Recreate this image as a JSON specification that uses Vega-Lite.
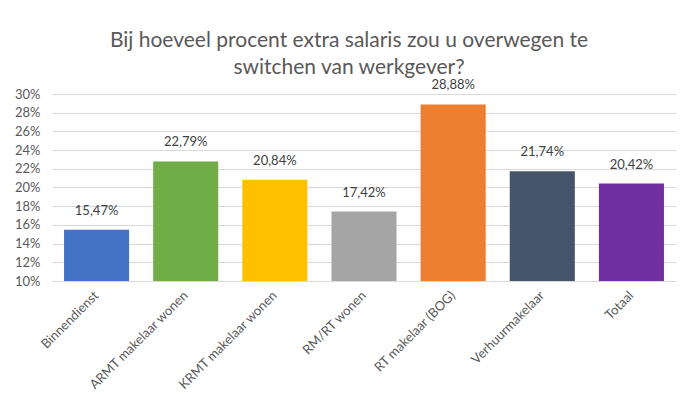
{
  "$schema": "https://vega.github.io/schema/vega-lite/v6.json",
  "width": 624,
  "height": 187,
  "autosize": {"type": "none"},
  "padding": {"left": 52, "top": 94, "right": 24, "bottom": 137},
  "background": "white",
  "title": {
    "text": ["Bij hoeveel procent extra salaris zou u overwegen te", "switchen van werkgever?"],
    "font": "Lato",
    "fontSize": 21,
    "fontWeight": "normal",
    "color": "#595959",
    "lineHeight": 27,
    "anchor": "middle",
    "frame": "group",
    "dx": -15,
    "offset": 1
  },
  "config": {
    "locale": {
      "number": {"decimal": ",", "thousands": ".", "grouping": [3], "currency": ["€", ""]}
    },
    "view": {"stroke": null},
    "font": "Lato"
  },
  "data": {
    "values": [
      {"categorie": "Binnendienst", "percentage": 0.1547},
      {"categorie": "ARMT makelaar wonen", "percentage": 0.2279},
      {"categorie": "KRMT makelaar wonen", "percentage": 0.2084},
      {"categorie": "RM/RT wonen", "percentage": 0.1742},
      {"categorie": "RT makelaar (BOG)", "percentage": 0.2888},
      {"categorie": "Verhuurmakelaar", "percentage": 0.2174},
      {"categorie": "Totaal", "percentage": 0.2042}
    ]
  },
  "encoding": {
    "x": {
      "field": "categorie",
      "type": "nominal",
      "sort": null,
      "title": null,
      "scale": {"paddingInner": 0.27, "paddingOuter": 0.135},
      "axis": {
        "labelAngle": -45,
        "labelAlign": "right",
        "labelBaseline": "middle",
        "labelFontSize": 13,
        "labelColor": "#595959",
        "labelPadding": 12,
        "labelOverlap": false,
        "ticks": false,
        "domainColor": "#D9D9D9",
        "domainWidth": 1
      }
    },
    "y": {
      "field": "percentage",
      "type": "quantitative",
      "scale": {"domain": [0.1, 0.3], "zero": false, "nice": false},
      "title": null,
      "axis": {
        "format": ".0%",
        "tickCount": 30,
        "values": [0.1, 0.12, 0.14, 0.16, 0.18, 0.2, 0.22, 0.24, 0.26, 0.28, 0.3],
        "grid": true,
        "domain": false,
        "ticks": false,
        "labelOverlap": false,
        "labelFontSize": 13,
        "labelColor": "#595959",
        "labelPadding": 12,
        "gridColor": "#D9D9D9",
        "gridOpacity": 1,
        "gridWidth": 1
      }
    }
  },
  "layer": [
    {
      "mark": {"type": "bar"},
      "encoding": {
        "y2": {"datum": 0.1},
        "color": {
          "field": "categorie",
          "type": "nominal",
          "legend": null,
          "scale": {
            "domain": ["Binnendienst", "ARMT makelaar wonen", "KRMT makelaar wonen", "RM/RT wonen", "RT makelaar (BOG)", "Verhuurmakelaar", "Totaal"],
            "range": ["#4472C4", "#70AD47", "#FFC000", "#A5A5A5", "#ED7D31", "#44546A", "#7030A0"]
          }
        }
      }
    },
    {
      "mark": {"type": "text", "dy": -12, "fontSize": 13, "color": "#404040", "baseline": "bottom"},
      "encoding": {
        "text": {"field": "percentage", "type": "quantitative", "format": ".2%"}
      }
    }
  ]
}
